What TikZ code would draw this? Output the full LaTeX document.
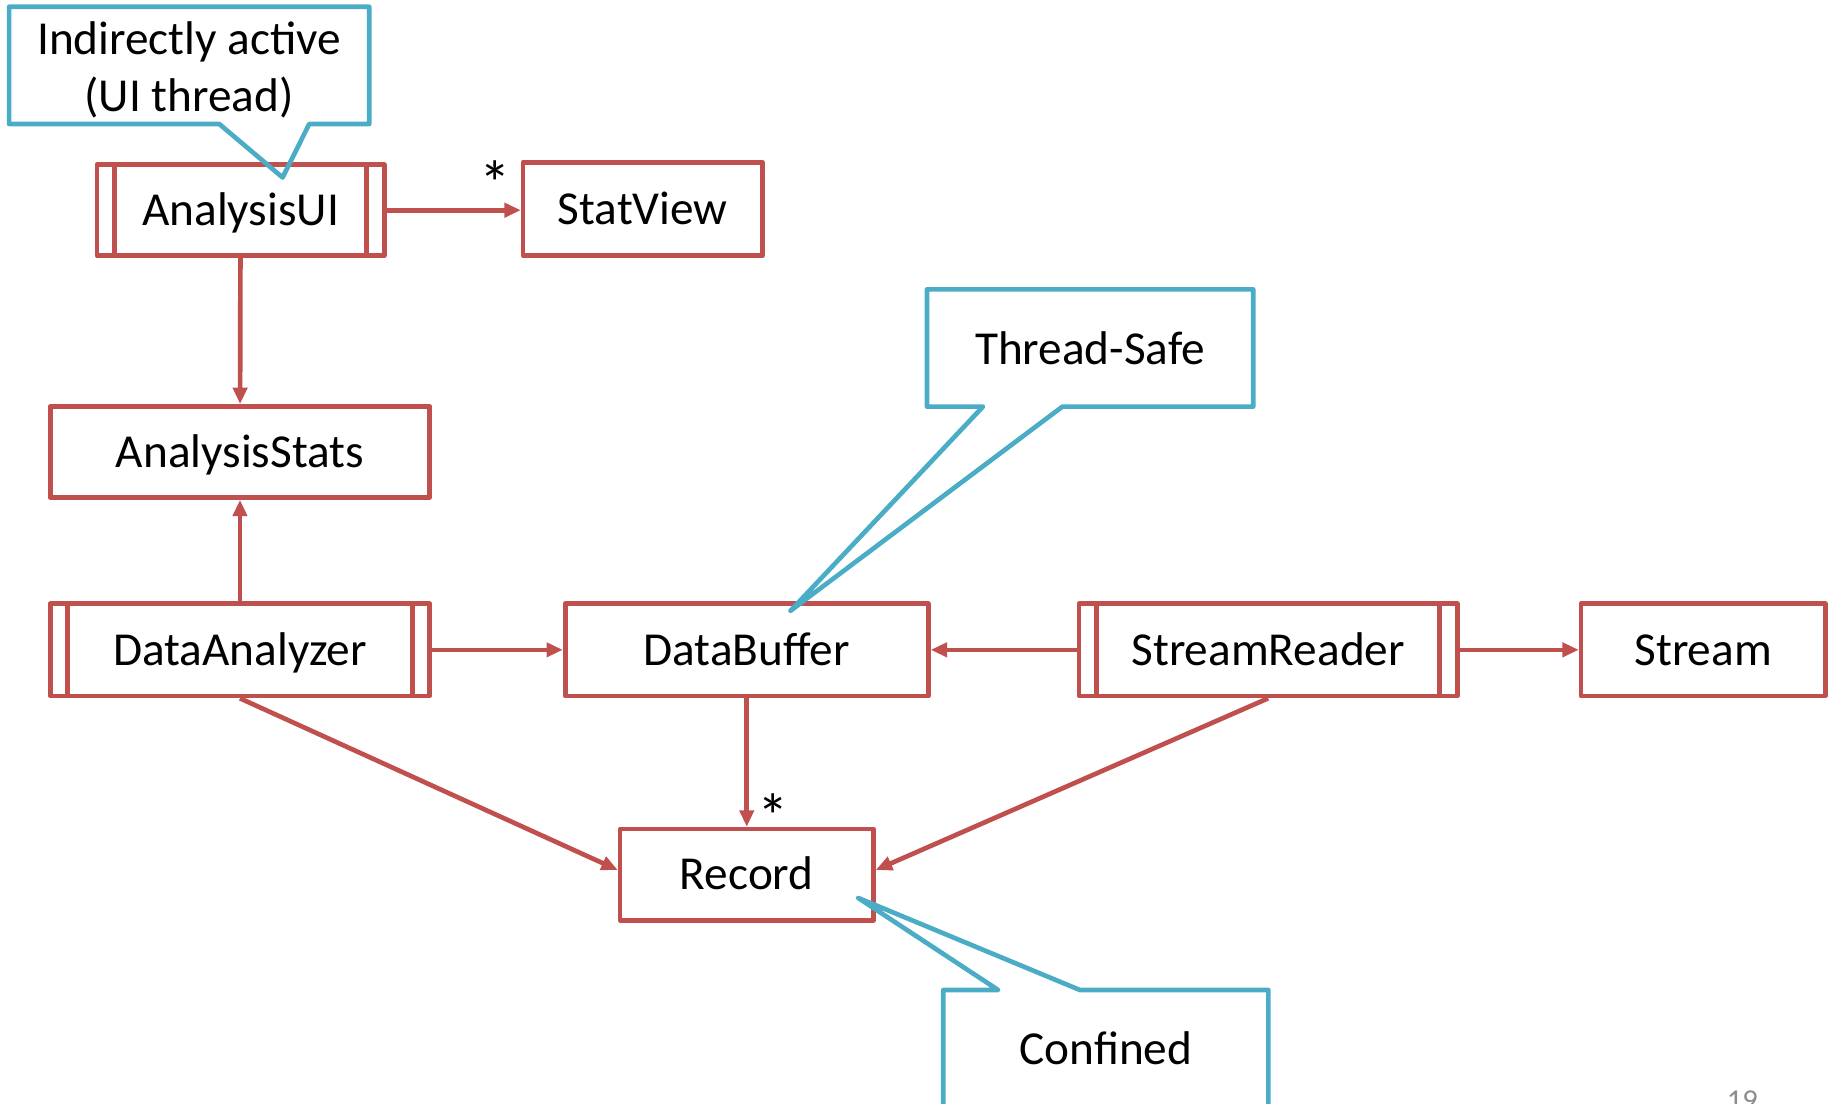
\documentclass[tikz,border=0pt]{standalone}
\usepackage{fontspec}
\setmainfont{Carlito}
\usetikzlibrary{arrows.meta,calc}
\definecolor{umlred}{HTML}{C0504D}
\definecolor{notecyan}{HTML}{4BACC6}
\definecolor{pagegray}{HTML}{8C8C8C}
\begin{document}
\begin{tikzpicture}[x=1pt,y=-1pt,
  cls/.style={draw=umlred,line width=4pt,line join=round,fill=white,inner sep=0pt,
    font=\fontsize{40.5}{48}\selectfont,text=black,text height=26pt,text depth=0pt},
  active/.style={cls,path picture={
    \draw[umlred,line width=4pt]
      ([xshift=15pt]path picture bounding box.north west) -- ([xshift=15pt]path picture bounding box.south west)
      ([xshift=-15pt]path picture bounding box.north east) -- ([xshift=-15pt]path picture bounding box.south east);}},
  link/.style={draw=umlred,line width=4pt,-{Triangle[length=14pt,width=12pt]}},
  notebox/.style={inner sep=0pt,align=center,font=\fontsize{40.5}{49}\selectfont},
  note/.style={draw=notecyan,line width=4pt,line join=round},
  mult/.style={inner sep=0pt,anchor=base,font=\fontsize{54}{60}\selectfont},
]
\clip (0,0) rectangle (1568,945);

% classes
\node[active,minimum width=246pt,minimum height=78pt] (aui) at (206,180) {AnalysisUI};
\node[cls,minimum width=205pt,minimum height=80pt] (sv) at (550.5,179) {StatView};
\node[cls,minimum width=325pt,minimum height=78pt] (ast) at (205.5,387) {AnalysisStats};
\node[active,minimum width=325pt,minimum height=79pt] (da) at (205.5,556.5) {DataAnalyzer};
\node[cls,minimum width=311pt,minimum height=79pt] (db) at (639.5,556.5) {DataBuffer};
\node[active,minimum width=324pt,minimum height=79pt] (sr) at (1086,556.5) {StreamReader};
\node[cls,minimum width=209pt,minimum height=79pt] (st) at (1458.5,556.5) {Stream};
\node[cls,minimum width=217pt,minimum height=78pt] (rec) at (639.5,749) {Record};

% associations
\draw[link] (aui.east) -- (aui.east -| sv.west);
\draw[link] (aui) -- (ast);
\draw[link] (da) -- (ast);
\draw[link] (da) -- (db);
\draw[link] (sr) -- (db);
\draw[link] (sr) -- (st);
\draw[link] (db) -- (rec);
\draw[link] (da.south) -- ([yshift=4pt]rec.west);
\draw[link] (sr.south) -- ([yshift=4pt]rec.east);

% multiplicities
\node[mult] (m1) at (424,176) {*};
\node[mult] (m2) at (662,718) {*};

% notes
\node[notebox,minimum width=308pt,minimum height=100pt] (n1) at (162,56) {};
\node[notebox] (n1text) at (162,60) {Indirectly active\\(UI thread)};
\coordinate (n1tip) at (242,152);
\draw[note] (n1.south west) -- (n1.north west) -- (n1.north east) -- (n1.south east)
  -- ([xshift=257pt]n1.south west) -- (n1tip) -- ([xshift=180pt]n1.south west) -- cycle;

\node[notebox,minimum width=279pt,minimum height=100pt] (n2) at (933.5,298) {Thread-Safe};
\coordinate (n2tip) at (677,523);
\draw[note] (n2.south west) -- (n2.north west) -- (n2.north east) -- (n2.south east)
  -- ([xshift=116pt]n2.south west) -- (n2tip) -- ([xshift=48pt]n2.south west) -- cycle;

\node[notebox,minimum width=278pt,minimum height=100pt] (n3) at (947,898) {Confined};
\coordinate (n3tip) at (735,769);
\draw[note] (n3.north west) -- ([xshift=47pt]n3.north west) -- (n3tip) -- ([xshift=117pt]n3.north west)
  -- (n3.north east) -- (n3.south east) -- (n3.south west) -- cycle;

% page number
\node[inner sep=0pt,anchor=base,text=pagegray,font=\fontsize{26}{30}\selectfont] (pg) at (1492,951) {19};
\end{tikzpicture}
\end{document}
